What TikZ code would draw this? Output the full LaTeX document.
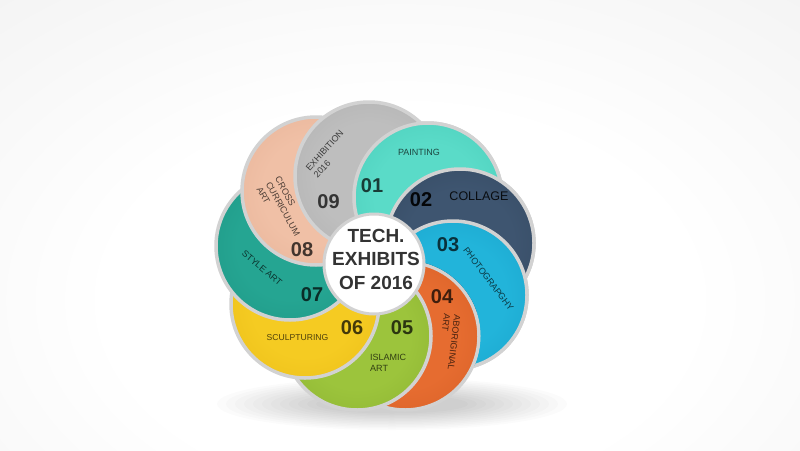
\documentclass[tikz,border=0pt]{standalone}
\usepackage{fontspec}
\setmainfont{Liberation Sans}

\definecolor{rimc}{HTML}{D2D2D2}
\definecolor{bgedge}{HTML}{E2E2E2}
\definecolor{ctext}{HTML}{333333}
\colorlet{pin}{white}
\colorlet{pout}{white}

\pgfdeclareradialshading[pin,pout]{petal}{\pgfpoint{0bp}{0bp}}{color(0bp)=(pin); color(18bp)=(pin); color(50bp)=(pout); color(100bp)=(pout)}
\pgfdeclareradialshading{bgshade}{\pgfpoint{0bp}{0bp}}{color(0bp)=(white); color(14bp)=(white); color(55bp)=(bgedge); color(100bp)=(bgedge)}
\pgfdeclareradialshading{hubshade}{\pgfpoint{-4bp}{4bp}}{color(0bp)=(white); color(30bp)=(white); color(50bp)=(black!17); color(100bp)=(black!17)}

\newcommand\petr{74pt}
\newcommand\holer{75.75pt}
\newcommand\petalfill[3]{%
  \definecolor{pin}{HTML}{#2}\definecolor{pout}{HTML}{#3}%
  \shadedraw[shading=petal, draw=rimc, line width=3.5pt] (#1) circle[radius=\petr];}

\tikzset{
  lbl/.style={font=\fontsize{9}{10.5}\selectfont, text=black, text opacity=0.68, align=left, inner sep=0pt},
  num/.style={font=\bfseries\fontsize{20}{20}\selectfont, text=black, text opacity=0.72, inner sep=0pt},
}

\begin{document}
\begin{tikzpicture}[x=1pt,y=-1pt]
\useasboundingbox (0,0) rectangle (800,450);
\begin{scope}
  \clip (0,0) rectangle (800,450);
  \shade[shading=bgshade] (-120,-40) rectangle (920,640);
\end{scope}

% petal centres
\coordinate (c1) at (428,197);
\coordinate (c2) at (460,243);
\coordinate (c3) at (453,295);
\coordinate (c4) at (405,336);
\coordinate (c5) at (357,336);
\coordinate (c6) at (305,304);
\coordinate (c7) at (290,246);
\coordinate (c8) at (316,191);
\coordinate (c9) at (369,176);
\coordinate (c0) at (374,264);

% soft shadow under the flower
\foreach \i in {0,...,11}{
  \fill[black, opacity=0.016] (392,404) ellipse [x radius={175pt-9pt*\i}, y radius={26pt-1.5pt*\i}];
}

% petals in order
\petalfill{c1}{5ADBC8}{3FC3B0}
\petalfill{c2}{3E5570}{2E4157}
\petalfill{c3}{22B4DA}{1497C0}
\petalfill{c4}{E66C30}{CB5620}
\petalfill{c5}{9CC43C}{80A62A}
\petalfill{c6}{F5CB22}{E2B210}
\petalfill{c7}{25A592}{1A8C7B}
\petalfill{c8}{F0C0A6}{E0A98D}
\petalfill{c9}{BEBEBE}{A6A6A6}

% close the cycle: 01, 02, 03 again, everywhere except under 04, 05, 06
\begin{scope}[even odd rule]
  \clip (-20,-20) rectangle (820,470) (c4) circle[radius=\holer];
  \begin{scope}[even odd rule]
    \clip (-20,-20) rectangle (820,470) (c5) circle[radius=\holer];
    \begin{scope}[even odd rule]
      \clip (-20,-20) rectangle (820,470) (c6) circle[radius=\holer];
      \petalfill{c1}{5ADBC8}{3FC3B0}
      \petalfill{c2}{3E5570}{2E4157}
      \petalfill{c3}{22B4DA}{1497C0}
    \end{scope}
  \end{scope}
\end{scope}

% hub
\shadedraw[shading=hubshade, draw=rimc, line width=3pt] (c0) circle[radius=50pt];
\node[font=\bfseries\fontsize{19}{23.5}\selectfont, text=ctext, align=center, inner sep=0pt] (hub) at (376,259) {TECH.\\EXHIBITS\\OF 2016};

% labels
\node[lbl] (t1) at (419,152) {PAINTING};
\node[num] (n1) at (372,186) {01};
\node[num, text opacity=0.92] (n2) at (421,200) {02};
\node[lbl, font=\fontsize{12.5}{14}\selectfont, text opacity=0.85] (t2) at (479,196) {COLLAGE};
\node[num] (n3) at (448,245) {03};
\node[lbl, rotate=-53] (t3) at (488.5,279) {PHOTOGRAPGHY};
\node[num] (n4) at (442,297) {04};
\node[lbl, rotate=-97] (t4) at (449,342) {ABORIGINAL\\ART};
\node[num] (n5) at (402,328) {05};
\node[lbl, anchor=west] (t5) at (370,363) {ISLAMIC\\ART};
\node[num] (n6) at (352,328) {06};
\node[lbl, font=\fontsize{8.6}{10}\selectfont] (t6) at (297.5,337.5) {SCULPTURING};
\node[num] (n7) at (312,295) {07};
\node[lbl, rotate=-40] (t7) at (262,268) {STYLE ART};
\node[num] (n8) at (302,250) {08};
\node[lbl, rotate=-61] (t8) at (283,209) {CROSS\\CURRICULUM\\ART};
\node[num] (n9) at (328.5,201.5) {09};
\node[lbl, rotate=48] (t9) at (328.6,154) {EXHIBITION\\2016};
\end{tikzpicture}
\end{document}
